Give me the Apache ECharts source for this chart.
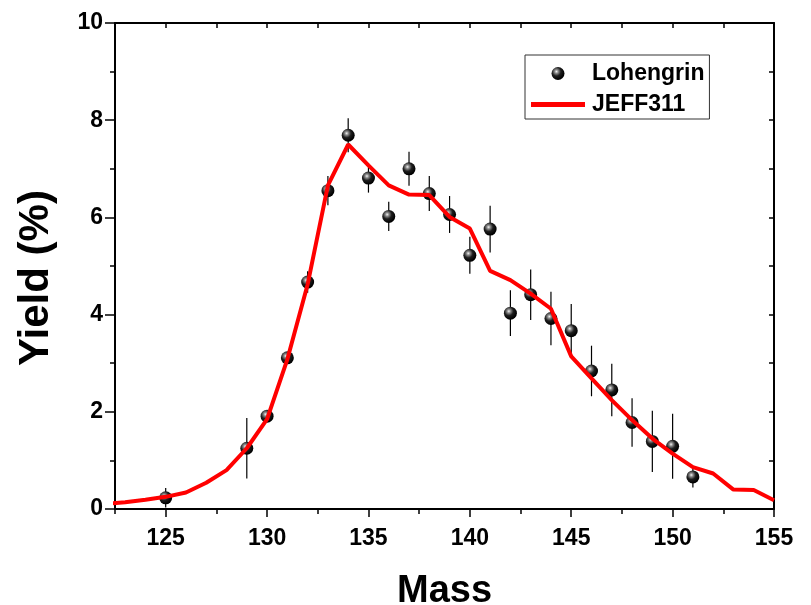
<!DOCTYPE html>
<html>
<head>
<meta charset="utf-8">
<script src="https://cdn.jsdelivr.net/npm/echarts@6/dist/echarts.min.js"></script>
<style>
  html, body { margin: 0; padding: 0; background: #ffffff; }
  #chart { width: 811px; height: 605px; }
</style>
</head>
<body>
<div id="chart"></div>
<script>
// Measured fission yields (Lohengrin) with uncertainties
const lohMass  = [125, 129, 130, 131, 132, 133, 134, 135, 136, 137, 138, 139, 140,
                  141, 142, 143, 144, 145, 146, 147, 148, 149, 150, 151];
const lohYield = [0.23, 1.25, 1.91, 3.11, 4.67, 6.55, 7.69, 6.81, 6.02, 7.00, 6.49, 6.06, 5.22,
                  5.76, 4.03, 4.41, 3.92, 3.67, 2.84, 2.45, 1.78, 1.39, 1.29, 0.66];
const lohErr   = [0.20, 0.62, 0.10, 0.12, 0.22, 0.30, 0.35, 0.30, 0.30, 0.35, 0.36, 0.38, 0.38,
                  0.48, 0.47, 0.52, 0.55, 0.55, 0.52, 0.54, 0.50, 0.63, 0.67, 0.22];

// Evaluated library yields (JEFF-3.1.1)
const jeffMass  = [122, 123, 124, 125, 126, 127, 128, 129, 130, 131, 132, 133, 134, 135, 136, 137, 138,
                   139, 140, 141, 142, 143, 144, 145, 146, 147, 148, 149, 150, 151, 152, 153, 154, 155];
const jeffYield = [0.10, 0.14, 0.19, 0.25, 0.34, 0.54, 0.80, 1.25, 1.85, 3.08, 4.62, 6.66, 7.50, 7.07, 6.66, 6.47, 6.46,
                   6.01, 5.77, 4.90, 4.71, 4.43, 4.12, 3.14, 2.69, 2.24, 1.83, 1.45, 1.14, 0.86, 0.73, 0.40, 0.39, 0.18];

// Axis ticks
const xLabelTicks = [125, 130, 135, 140, 145, 150, 155];
const xMinorTicks = [122.5, 127.5, 132.5, 137.5, 142.5, 147.5, 152.5];

const FONT = '"Liberation Sans", Arial, sans-serif';
const AXIS_LINE = { show: true, lineStyle: { color: '#000', width: 2 } };

const lohData = lohMass.map((m, i) => [m, lohYield[i]]);
const errData = lohMass.map((m, i) => [m, lohYield[i] - lohErr[i], lohYield[i] + lohErr[i]]);
const jeffData = jeffMass.map((m, i) => [m, jeffYield[i]]);

// shaded ball marker
const sphere = {
  type: 'radial', x: 0.38, y: 0.35, r: 0.62,
  colorStops: [
    { offset: 0, color: '#f2f2f2' },
    { offset: 0.22, color: '#8c8c8c' },
    { offset: 0.55, color: '#1e1e1e' },
    { offset: 1, color: '#000000' }
  ]
};

const chart = echarts.init(document.getElementById('chart'), null, { renderer: 'canvas' });

chart.setOption({
  animation: false,
  backgroundColor: '#ffffff',
  grid: { left: 115, top: 23, width: 659, height: 486, containLabel: false, outerBoundsMode: 'none' },
  legend: {
    orient: 'vertical',
    left: 525, top: 55,
    padding: [7, 5, 3, 6],
    itemGap: 8,
    itemWidth: 54, itemHeight: 13,
    borderColor: '#333', borderWidth: 1,
    backgroundColor: '#fff',
    textStyle: { fontFamily: FONT, fontWeight: 'bold', fontSize: 23, color: '#000', padding: [0, 0, 0, 2] },
    data: [
      { name: 'Lohengrin' },
      { name: 'JEFF311', icon: 'path://M0,0L54,0L54,5L0,5Z', itemStyle: { color: '#ff0000' } }
    ]
  },
  xAxis: [
    {
      type: 'value', position: 'bottom', min: 122.5, max: 155,
      name: 'Mass', nameLocation: 'middle', nameGap: 64,
      nameTextStyle: { fontFamily: FONT, fontWeight: 'bold', fontSize: 38, color: '#000' },
      axisLine: AXIS_LINE,
      axisTick: { show: true, customValues: xLabelTicks, length: 8, lineStyle: { color: '#000', width: 1.5 } },
      axisLabel: { customValues: xLabelTicks, margin: 18, fontFamily: FONT, fontWeight: 'bold', fontSize: 23, color: '#000' },
      splitLine: { show: false }
    },
    {
      type: 'value', position: 'bottom', min: 122.5, max: 155,
      axisLine: { show: false },
      axisTick: { show: true, customValues: xMinorTicks, length: 5, lineStyle: { color: '#000', width: 1.5 } },
      axisLabel: { show: false },
      splitLine: { show: false }
    },
    {
      type: 'value', position: 'top', min: 122.5, max: 155, interval: 2.5,
      axisLine: AXIS_LINE,
      axisTick: { show: true, inside: true, length: 5, lineStyle: { color: '#000', width: 1.5 } },
      axisLabel: { show: false },
      splitLine: { show: false }
    }
  ],
  yAxis: [
    {
      type: 'value', position: 'left', min: 0, max: 10, interval: 2,
      name: 'Yield (%)', nameLocation: 'middle', nameGap: 58,
      nameTextStyle: { fontFamily: FONT, fontWeight: 'bold', fontSize: 42, color: '#000', padding: [0, 24, 0, 0] },
      axisLine: AXIS_LINE,
      axisTick: { show: true, length: 10, lineStyle: { color: '#000', width: 1.5 } },
      minorTick: { show: true, splitNumber: 2, length: 5, lineStyle: { color: '#000', width: 1.5 } },
      axisLabel: { margin: 12, fontFamily: FONT, fontWeight: 'bold', fontSize: 23, color: '#000' },
      splitLine: { show: false }
    },
    {
      type: 'value', position: 'right', min: 0, max: 10, interval: 1,
      axisLine: AXIS_LINE,
      axisTick: { show: true, inside: true, length: 5, lineStyle: { color: '#000', width: 1.5 } },
      axisLabel: { show: false },
      splitLine: { show: false }
    }
  ],
  series: [
    {
      name: 'err',
      type: 'custom',
      xAxisIndex: 0, yAxisIndex: 0,
      z: 2,
      silent: true,
      data: errData,
      encode: { x: 0, y: [1, 2] },
      renderItem: function (params, api) {
        const lo = api.coord([api.value(0), api.value(1)]);
        const hi = api.coord([api.value(0), api.value(2)]);
        return {
          type: 'line',
          shape: { x1: lo[0], y1: lo[1], x2: hi[0], y2: hi[1] },
          style: { stroke: '#000', lineWidth: 1.2 }
        };
      }
    },
    {
      name: 'Lohengrin',
      type: 'scatter',
      xAxisIndex: 0, yAxisIndex: 0,
      z: 3,
      symbol: 'circle',
      symbolSize: 13,
      itemStyle: { color: sphere, opacity: 1 },
      data: lohData
    },
    {
      name: 'JEFF311',
      type: 'line',
      xAxisIndex: 0, yAxisIndex: 0,
      z: 4,
      showSymbol: false,
      symbol: 'none',
      lineStyle: { color: '#ff0000', width: 4 },
      itemStyle: { color: '#ff0000' },
      data: jeffData
    }
  ]
});
</script>
</body>
</html>
